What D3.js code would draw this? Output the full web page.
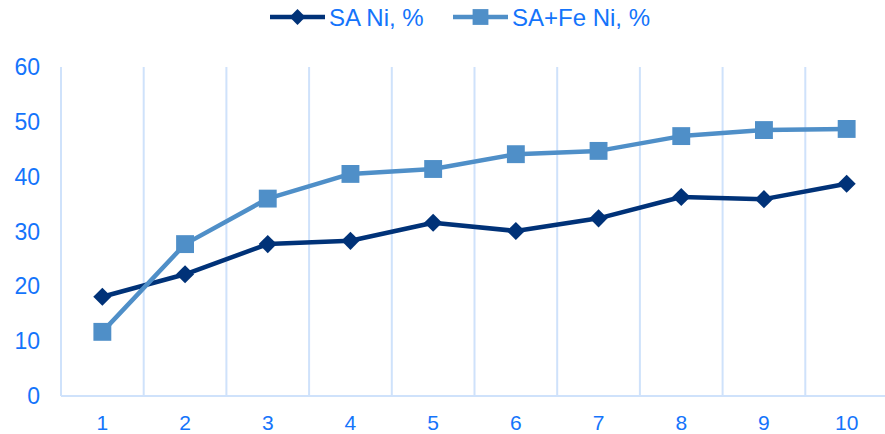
<!DOCTYPE html>
<html>
<head>
<meta charset="utf-8">
<script src="https://cdn.jsdelivr.net/npm/d3@7"></script>
<style>
  body { margin: 0; background: #fff; }
  text { font-family: "Liberation Sans", Arial, sans-serif; }
</style>
</head>
<body>
<div id="chart"></div>
<script>
// chart data
const categories = ["1", "2", "3", "4", "5", "6", "7", "8", "9", "10"];
const seriesNames = ["SA Ni, %", "SA+Fe Ni, %"];
const saNi = [18.1, 22.2, 27.7, 28.3, 31.6, 30.1, 32.4, 36.3, 35.9, 38.7];
const saFeNi = [11.7, 27.7, 36.0, 40.5, 41.4, 44.1, 44.7, 47.4, 48.5, 48.7];
const yTicks = [0, 10, 20, 30, 40, 50, 60];

const width = 885, height = 434;
const margin = { top: 67, right: -3, bottom: 38, left: 61 };
const textColor = "#1474fb";
const gridColor = "#cfe2fb";
const colors = ["#003278", "#4f8fc8"];

const svg = d3.select("#chart").append("svg")
    .attr("width", width)
    .attr("height", height);

const x = d3.scaleBand()
    .domain(categories)
    .range([margin.left, width - margin.right]);

const y = d3.scaleLinear()
    .domain([0, 60])
    .range([height - margin.bottom, margin.top]);

// vertical gridlines at category boundaries
svg.append("g")
    .selectAll("line")
    .data(categories)
    .join("line")
    .attr("x1", d => x(d) + x.bandwidth())
    .attr("x2", d => x(d) + x.bandwidth())
    .attr("y1", y(60))
    .attr("y2", y(0))
    .style("stroke", gridColor)
    .style("stroke-width", 2);

// left axis line
svg.append("line")
    .attr("x1", margin.left).attr("x2", margin.left)
    .attr("y1", y(60)).attr("y2", y(0))
    .style("stroke", gridColor)
    .style("stroke-width", 2);

// x axis line
svg.append("line")
    .attr("x1", margin.left).attr("x2", width)
    .attr("y1", y(0)).attr("y2", y(0))
    .style("stroke", gridColor)
    .style("stroke-width", 2);

// y tick labels
svg.append("g")
    .selectAll("text")
    .data(yTicks)
    .join("text")
    .attr("x", 40)
    .attr("y", d => y(d))
    .attr("dy", "0.35em")
    .attr("text-anchor", "end")
    .style("font-size", "23px")
    .style("fill", textColor)
    .text(d => d);

// x tick labels
svg.append("g")
    .selectAll("text")
    .data(categories)
    .join("text")
    .attr("x", d => x(d) + x.bandwidth() / 2)
    .attr("y", 423)
    .attr("dy", "0.35em")
    .attr("text-anchor", "middle")
    .style("font-size", "21px")
    .style("fill", textColor)
    .text(d => d);

const series = [saNi, saFeNi];
const line = d3.line()
    .x((d, i) => x(categories[i]) + x.bandwidth() / 2)
    .y(d => y(d));

const diamond = d3.symbol().type(d3.symbolDiamond2).size(210);
const square = d3.symbol().type(d3.symbolSquare).size(320);
const symbols = [diamond, square];

series.forEach((values, s) => {
    const g = svg.append("g");
    g.append("path")
        .attr("d", line(values))
        .style("fill", "none")
        .style("stroke", colors[s])
        .style("stroke-width", 4.5)
        .style("stroke-linejoin", "round");
    g.selectAll("path.marker")
        .data(values)
        .join("path")
        .attr("class", "marker")
        .attr("transform", (d, i) => `translate(${x(categories[i]) + x.bandwidth() / 2},${y(d)})`)
        .attr("d", symbols[s]())
        .style("fill", colors[s]);
});

// legend
const legendItems = [
    { name: seriesNames[0], x0: 270, color: colors[0], sym: d3.symbol().type(d3.symbolDiamond2).size(160) },
    { name: seriesNames[1], x0: 453, color: colors[1], sym: d3.symbol().type(d3.symbolSquare).size(250) }
];
const legend = svg.append("g");
legendItems.forEach(item => {
    const g = legend.append("g").attr("transform", `translate(${item.x0},17)`);
    g.append("line")
        .attr("x1", 0).attr("x2", 55)
        .style("stroke", item.color)
        .style("stroke-width", 4.5);
    g.append("path")
        .attr("transform", "translate(27.5,0)")
        .attr("d", item.sym())
        .style("fill", item.color);
    g.append("text")
        .attr("x", 59)
        .attr("dy", "0.36em")
        .style("font-size", "24px")
        .style("fill", textColor)
        .text(item.name);
});
</script>
</body>
</html>
